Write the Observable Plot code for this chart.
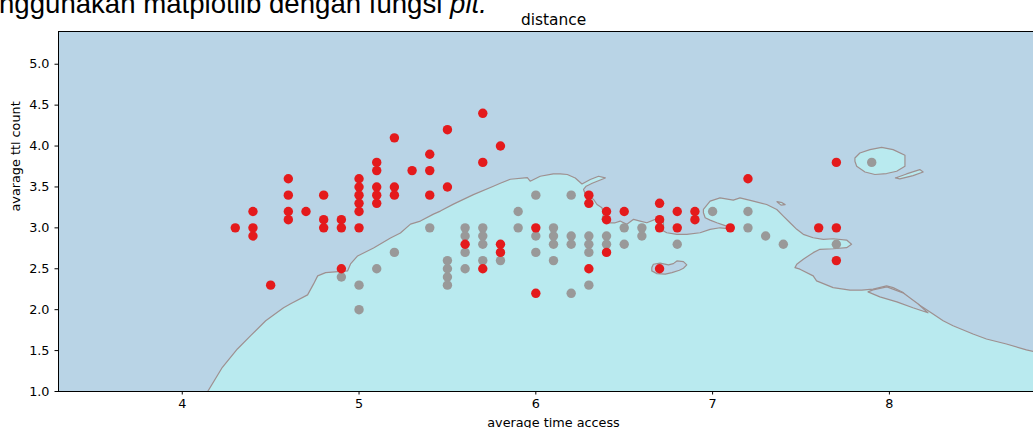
<!DOCTYPE html>
<html><head><meta charset="utf-8">
<script src="https://cdn.jsdelivr.net/npm/d3@7"></script>
<script src="https://cdn.jsdelivr.net/npm/@observablehq/plot@0.6"></script>
<style>
html,body{margin:0;padding:0;background:#fff;overflow:hidden;width:1033px;height:428px;}
#wrap{position:relative;width:1033px;height:428px;overflow:hidden;}
#chart{position:absolute;left:0;top:0;width:1060px;}
#doc{position:absolute;left:-1px;top:-10.5px;font-family:"Liberation Sans",Arial,sans-serif;font-size:27.6px;line-height:27.6px;white-space:nowrap;color:#000;}
</style></head><body>
<div id="wrap"><div id="chart"></div><div id="doc">nggunakan matplotlib dengan fungsi <i>plt.</i></div></div>
<script>
const xDomain = [3.3, 8.9];
const yDomain = [1.0, 5.4];
const xTicks = [4, 5, 6, 7, 8];
const yTicks = [1.0, 1.5, 2.0, 2.5, 3.0, 3.5, 4.0, 4.5, 5.0];

const redPoints = [
[4.3,3.0],[4.4,3.2],[4.4,3.0],[4.4,2.9],[4.5,2.3],[4.6,3.6],[4.6,3.4],[4.6,3.2],[4.6,3.1],[4.7,3.2],
[4.8,3.4],[4.8,3.1],[4.8,3.0],[4.9,3.1],[4.9,3.0],[4.9,2.5],[5.0,3.6],[5.0,3.5],[5.0,3.4],[5.0,3.3],
[5.0,3.2],[5.0,3.0],[5.1,3.8],[5.1,3.7],[5.1,3.5],[5.1,3.4],[5.1,3.3],[5.2,4.1],[5.2,3.5],[5.2,3.4],
[5.3,3.7],[5.4,3.9],[5.4,3.7],[5.4,3.4],[5.5,4.2],[5.5,3.5],[5.6,2.8],[5.7,4.4],[5.7,3.8],[5.7,2.5],
[5.8,4.0],[5.8,2.8],[5.8,2.7],[6.0,3.0],[6.0,2.2],[6.3,3.4],[6.3,3.3],[6.3,2.5],[6.4,3.2],[6.4,3.1],
[6.4,2.7],[6.5,3.2],[6.7,3.3],[6.7,3.1],[6.7,3.0],[6.7,2.5],[6.8,3.2],[6.8,3.0],[6.9,3.2],[6.9,3.1],
[7.1,3.0],[7.2,3.6],[7.6,3.0],[7.7,3.8],[7.7,3.0],[7.7,2.6]
];
const greyPoints = [
[4.9,2.4],[5.0,2.3],[5.0,2.0],[5.1,2.5],[5.2,2.7],[5.4,3.0],[5.5,2.6],[5.5,2.5],[5.5,2.4],[5.5,2.3],
[5.6,3.0],[5.6,2.9],[5.6,2.7],[5.6,2.5],[5.7,3.0],[5.7,2.9],[5.7,2.8],[5.7,2.6],[5.8,2.6],[5.9,3.2],
[5.9,3.0],[6.0,3.4],[6.0,2.9],[6.0,2.7],[6.1,3.0],[6.1,2.9],[6.1,2.8],[6.1,2.6],[6.2,3.4],[6.2,2.9],
[6.2,2.8],[6.2,2.2],[6.3,2.9],[6.3,2.8],[6.3,2.7],[6.3,2.3],[6.4,2.9],[6.4,2.8],[6.5,3.0],[6.5,2.8],
[6.6,3.0],[6.6,2.9],[6.8,2.8],[7.0,3.2],[7.2,3.2],[7.2,3.0],[7.3,2.9],[7.4,2.8],[7.7,2.8],[7.9,3.8]
];

// decision boundary, left-bottom to right edge
const boundary = [
[4.144,1.000],[4.227,1.296],[4.312,1.520],[4.387,1.682],[4.472,1.865],[4.573,2.023],[4.613,2.072],[4.709,2.181],
[4.743,2.315],[4.766,2.413],[4.811,2.453],[4.935,2.474],[4.952,2.559],[4.992,2.657],[5.082,2.754],[5.178,2.876],
[5.234,2.937],[5.291,3.046],[5.347,3.083],[5.421,3.168],[5.460,3.205],[5.534,3.290],[5.647,3.406],[5.760,3.509],
[5.799,3.546],[5.856,3.594],[5.952,3.613],[5.968,3.570],[6.025,3.631],[6.099,3.659],[6.138,3.659],[6.178,3.652],
[6.223,3.610],[6.261,3.537],[6.308,3.591],[6.355,3.631],[6.393,3.610],[6.319,3.546],[6.285,3.509],
[6.270,3.469],[6.280,3.408],[6.327,3.347],[6.346,3.286],[6.374,3.245],[6.383,3.164],[6.374,3.104],[6.402,3.062],
[6.449,3.062],[6.477,3.083],[6.515,3.043],[6.553,3.104],[6.590,3.083],[6.628,3.062],[6.675,3.104],[6.703,3.144],
[6.722,3.104],[6.722,2.961],[6.741,2.940],[6.798,2.921],[6.854,2.921],[6.929,2.940],[6.986,2.982],[7.042,3.001],
[7.116,2.985],[7.071,3.028],[7.024,3.062],[6.986,3.095],[6.958,3.123],[6.948,3.184],[6.948,3.225],[6.986,3.326],
[7.042,3.367],[7.117,3.339],[7.155,3.367],[7.230,3.326],[7.306,3.286],[7.363,3.225],[7.400,3.144],[7.438,3.062],
[7.476,2.982],[7.513,2.921],[7.569,2.879],[7.626,2.860],[7.682,2.867],[7.758,2.851],[7.786,2.799],[7.758,2.758],
[7.682,2.745],[7.607,2.738],[7.569,2.697],[7.513,2.616],[7.476,2.555],[7.466,2.514],[7.494,2.495],[7.569,2.413],
[7.588,2.352],[7.682,2.270],[7.777,2.239],[7.843,2.239],[7.908,2.251],[7.984,2.291],[8.021,2.270],[8.078,2.209],
[8.116,2.129],[8.191,2.027],[8.247,1.946],[8.304,1.865],[8.360,1.804],[8.473,1.703],[8.549,1.642],[8.662,1.581],
[8.775,1.508],[8.900,1.451]
];
// closed regions of the other class
const blueLakeRight = [[7.907,2.242],[7.986,2.279],[8.077,2.206],[8.161,2.072],[8.218,1.962],[8.133,2.023],[8.042,2.096],[7.946,2.157],[7.879,2.218]];
const bluePocket = [[6.656,2.514],[6.665,2.555],[6.703,2.568],[6.750,2.547],[6.778,2.563],[6.798,2.596],[6.835,2.587],[6.854,2.547],[6.835,2.507],[6.812,2.482],[6.770,2.453],[6.732,2.434],[6.685,2.441],[6.656,2.474]];
const cyanIsland = [[7.805,3.854],[7.833,3.915],[7.890,3.956],[7.956,3.984],[8.021,3.956],[8.088,3.887],[8.088,3.753],[8.041,3.692],[7.984,3.664],[7.918,3.652],[7.862,3.683],[7.815,3.753],[7.805,3.814]];
const cyanSliver = [[8.034,3.610],[8.097,3.659],[8.172,3.712],[8.191,3.683],[8.134,3.639],[8.059,3.598]];
const cyanSpeck = [[7.364,3.320],[7.393,3.308],[7.410,3.284],[7.387,3.278]];

const BLUE = "#b9d4e6", CYAN = "#b9eaef", LINE = "#9e9090";
const RED = "#e41a1c", GREY = "#999999";

const closed = a => a.concat([a[0]]);
const cyanFill = boundary.concat([[xDomain[1], yDomain[0]], [boundary[0][0], yDomain[0]]]);
const px = d => d[0], py = d => d[1];
const loop = (a, fill) => Plot.line(closed(a), {x: px, y: py, fill, stroke: LINE, strokeWidth: 1.2, clip: true});

const chart = Plot.plot({
  width: 1060, height: 428,
  marginTop: 31, marginBottom: 37, marginLeft: 58, marginRight: 12,
  x: {domain: xDomain},
  y: {domain: yDomain},
  style: {fontFamily: "DejaVu Sans", fontSize: "12.8px", color: "#000", background: "transparent", maxWidth: "none", overflow: "visible"},
  marks: [
    Plot.frame({fill: BLUE, stroke: null}),
    Plot.line(cyanFill, {x: px, y: py, fill: CYAN, stroke: "none", clip: true}),
    Plot.line(boundary, {x: px, y: py, stroke: LINE, strokeWidth: 1.2, clip: true}),
    loop(blueLakeRight, BLUE),
    loop(bluePocket, BLUE),
    loop(cyanIsland, CYAN),
    loop(cyanSliver, CYAN),
    loop(cyanSpeck, CYAN),
    Plot.dot(greyPoints, {x: px, y: py, r: 4.7, fill: GREY, stroke: null}),
    Plot.dot(redPoints, {x: px, y: py, r: 4.7, fill: RED, stroke: null}),
    Plot.frame({stroke: "#000", strokeWidth: 1}),
    Plot.axisX({ticks: xTicks, tickSize: 3.5, tickPadding: 3.5, tickFormat: d => String(d), label: null}),
    Plot.axisY({ticks: yTicks, tickSize: 3.5, tickPadding: 5.5, tickFormat: d => d.toFixed(1), label: null}),
    Plot.text(["distance"], {text: d => d, frameAnchor: "top", dy: -7, lineAnchor: "bottom", fontSize: 15.4}),
    Plot.text(["average time access"], {text: d => d, frameAnchor: "bottom", dy: 35, lineAnchor: "bottom"}),
    Plot.text(["avarage ttl count"], {text: d => d, frameAnchor: "left", dx: -38.5, rotate: -90, lineAnchor: "bottom"})
  ]
});
document.getElementById("chart").appendChild(chart);
</script>
</body></html>
